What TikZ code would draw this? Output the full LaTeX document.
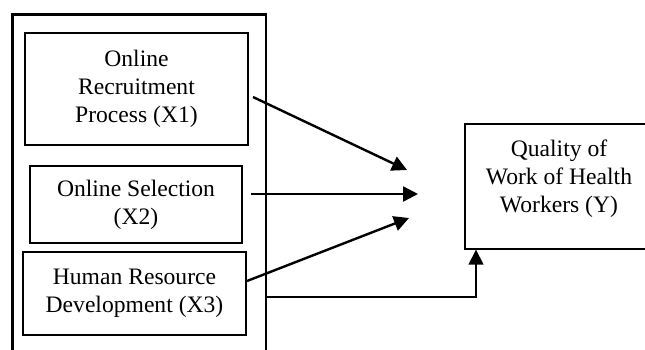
\documentclass[tikz,border=0pt]{standalone}
\usepackage{fontspec}
\setmainfont{Liberation Serif}
\usetikzlibrary{arrows.meta}
\begin{document}
\begin{tikzpicture}[x=1pt,y=-1pt,
  box/.style={draw, line width=1.4pt, inner sep=0pt, align=center,
    font=\fontsize{23.6}{28}\selectfont},
  txt/.style={inner sep=0pt, align=center, font=\fontsize{23.6}{28}\selectfont},
  outerline/.style={line width=2.8pt},
  arr/.style={line width=2.4pt, -{Triangle[length=15pt,width=15pt]}},
]
\useasboundingbox (0,0) rectangle (645,349);
\clip (0,0) rectangle (645,349);
% outer container (open at bottom)
\draw[outerline] (12.5,360) |- (266,14.5) -- (266,360);
% left boxes
\node[box, minimum width=223pt, minimum height=112pt] (x1) at (136.5,89)
  {Online\\Recruitment\\Process (X1)};
\node[box, minimum width=212pt, minimum height=77pt] (x2) at (136,204.5)
  {Online Selection\\(X2)};
\node[box, minimum width=223pt, minimum height=83pt] (x3) at (134.5,293.5)
  {Human Resource\\Development (X3)};
% dependent box
\node[box, minimum width=188pt, minimum height=125pt] (y) at (559,186.5) {};
\node[txt] (ytext) at (559,179) {Quality of\\Work of Health\\Workers (Y)};
% connector coordinates
\coordinate (s1) at (253,97);
\coordinate (t1) at (407,170);
\coordinate (s2) at (251,194);
\coordinate (t2) at (418,194);
\coordinate (s3) at (247,281);
\coordinate (t3) at (409,218);
\coordinate (s4) at (266,297);
\coordinate (k4) at (476,297);
% connectors
\draw[arr] (s1) -- (t1);
\draw[arr] (s2) -- (t2);
\draw[arr] (s3) -- (t3);
\draw[line width=2.4pt] (s4) -- ([xshift=0.6pt]k4);
\draw[line width=1.6pt, -{Triangle[length=15pt,width=15pt]}] (k4) -- (k4 |- y.south);
\end{tikzpicture}
\end{document}
